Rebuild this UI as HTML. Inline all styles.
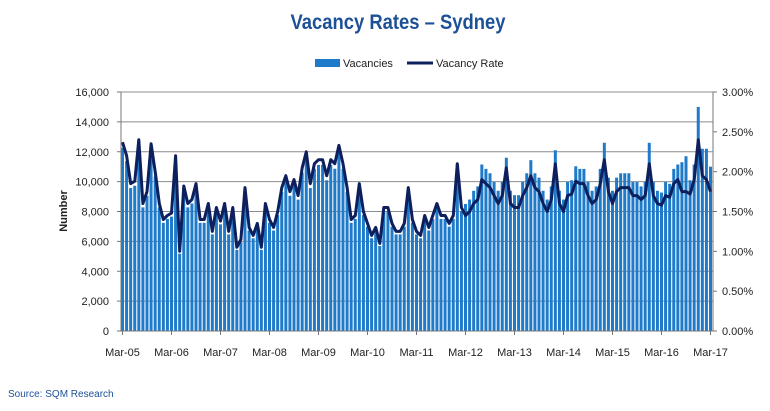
<!DOCTYPE html>
<html><head><meta charset="utf-8"><style>
body{margin:0;background:#fff;width:770px;height:406px;overflow:hidden;font-family:"Liberation Sans",sans-serif}
</style></head><body>
<svg id="s" width="770" height="406" xmlns="http://www.w3.org/2000/svg" font-family="Liberation Sans, sans-serif">
<text x="398" y="29" text-anchor="middle" font-size="21" font-weight="bold" fill="#1d5197" textLength="215" lengthAdjust="spacingAndGlyphs">Vacancy Rates – Sydney</text>
<rect x="315" y="59" width="25" height="8" fill="#1f7bc9"/>
<text x="343" y="67" font-size="11" fill="#222">Vacancies</text>
<line x1="407" y1="63" x2="433" y2="63" stroke="#0d1f5c" stroke-width="3"/>
<text x="436" y="67" font-size="11" fill="#222">Vacancy Rate</text>
<g id="grid"></g><g id="bars"></g><g id="ln"></g><g id="ax"></g>
<text transform="translate(67,211) rotate(-90)" text-anchor="middle" font-size="11" font-weight="bold" fill="#222">Number</text>
<text x="8" y="397" font-size="10" fill="#1d5197">Source: SQM Research</text>
</svg>
<script>
var ns="http://www.w3.org/2000/svg";
function el(p,t,a,txt){var e=document.createElementNS(ns,t);for(var k in a)e.setAttribute(k,a[k]);if(txt!=null)e.textContent=txt;document.getElementById(p).appendChild(e);return e;}
var X0=121,X1=713,Y0=331,YT=92,H=Y0-YT;
for(var i=0;i<=8;i++){var y=Y0-H*i/8;
 if(i>0)el("grid","line",{x1:X0,x2:X1,y1:y,y2:y,stroke:"#8c8c8c","stroke-width":1});
 el("ax","text",{x:109,y:y+4,"text-anchor":"end","font-size":"11",fill:"#222"},(i*2000).toLocaleString("en-US"));
 el("ax","line",{x1:X0-4,x2:X0,y1:y,y2:y,stroke:"#777"});
}
for(var i=0;i<=6;i++){var y=Y0-H*i/6;
 el("ax","text",{x:722,y:y+4,"font-size":"11",fill:"#222"},(i*0.5).toFixed(2)+"%");
 el("ax","line",{x1:X1,x2:X1+4,y1:y,y2:y,stroke:"#777"});
}
el("ax","line",{x1:X0,x2:X0,y1:YT,y2:Y0,stroke:"#777"});
el("ax","line",{x1:X1,x2:X1,y1:YT,y2:Y0,stroke:"#777"});
el("ax","line",{x1:X0,x2:X1,y1:Y0,y2:Y0,stroke:"#777"});
var r=[2.37,2.2,1.85,1.88,2.4,1.6,1.75,2.35,2.0,1.6,1.4,1.45,1.48,2.2,1.0,1.82,1.6,1.65,1.85,1.4,1.4,1.6,1.25,1.55,1.38,1.6,1.25,1.55,1.05,1.15,1.8,1.3,1.2,1.35,1.05,1.6,1.4,1.3,1.5,1.8,1.95,1.75,1.9,1.7,2.05,2.25,1.85,2.1,2.15,2.15,1.95,2.15,2.1,2.33,2.1,1.8,1.4,1.45,1.85,1.5,1.35,1.2,1.3,1.1,1.55,1.55,1.35,1.25,1.25,1.35,1.8,1.4,1.25,1.2,1.45,1.3,1.45,1.6,1.45,1.45,1.35,1.45,2.1,1.55,1.45,1.5,1.6,1.65,1.9,1.85,1.8,1.7,1.6,1.7,2.05,1.6,1.55,1.55,1.7,1.8,1.95,1.8,1.75,1.6,1.5,1.65,2.1,1.6,1.5,1.7,1.72,1.88,1.85,1.85,1.7,1.6,1.65,1.85,2.15,1.75,1.6,1.75,1.8,1.8,1.8,1.7,1.7,1.65,1.7,2.1,1.7,1.6,1.58,1.7,1.68,1.85,1.9,1.75,1.75,1.72,1.9,2.4,1.95,1.9,1.75];
var sp={82:11150,94:11600,106:12100,118:12600,129:12600,141:15000,138:11700,137:11300,142:12200,143:12200,144:11000};
var dx=(709-X0)/144,pts=[];
for(var i=0;i<r.length;i++){var x=X0+1.5+i*dx;
 var v=r[i]*5333*(i<84?0.97:1.1); if(sp[i])v=sp[i];
 var h=v/16000*H;
 el("bars","rect",{x:x-1.5,y:Y0-h,width:3,height:h,fill:"#1f7bc9"});
 pts.push(x.toFixed(1)+","+(Y0-r[i]/3*H).toFixed(1));
}
el("ln","polyline",{points:pts.join(" "),fill:"none",stroke:"#0d1f5c","stroke-width":3,"stroke-linejoin":"round"});
var lab=["Mar-05","Mar-06","Mar-07","Mar-08","Mar-09","Mar-10","Mar-11","Mar-12","Mar-13","Mar-14","Mar-15","Mar-16","Mar-17"];
for(var j=0;j<13;j++){var x=X0+1.5+j*12*dx;
 el("ax","line",{x1:x,x2:x,y1:Y0,y2:Y0+4,stroke:"#777"});
 el("ax","text",{x:x,y:356,"text-anchor":"middle","font-size":"11",fill:"#222"},lab[j]);}
</script>
</body></html>
